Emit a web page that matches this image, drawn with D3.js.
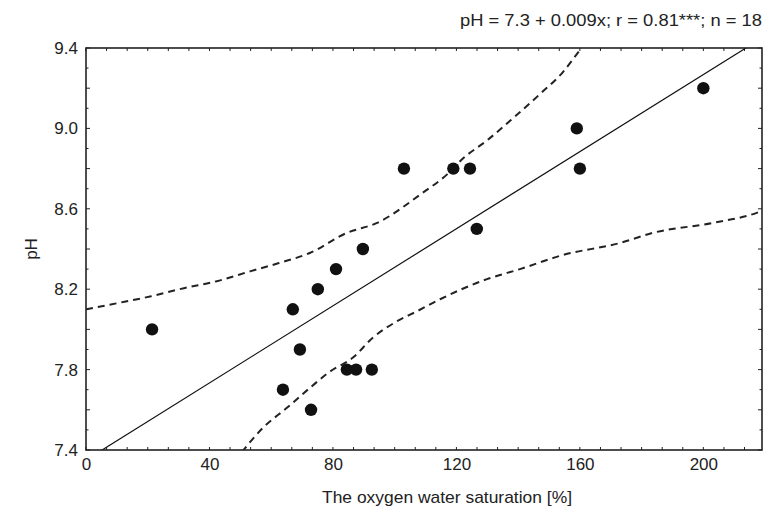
<!DOCTYPE html>
<html>
<head>
<meta charset="utf-8">
<script src="https://cdn.jsdelivr.net/npm/d3@7"></script>
<style>
  body { margin: 0; background: #fff; }
  svg text { font-family: "Liberation Sans", Arial, sans-serif; fill: #222; }
</style>
</head>
<body>
<div id="chart"></div>
<script>
// oxygen saturation (%) and pH
const oxygen = [21.4, 63.8, 67.0, 69.3, 72.9, 75.1, 81.0, 84.5, 87.5, 89.7, 92.6, 103.0, 119.0, 124.4, 126.6, 159.0, 160.0, 200.0];
const ph     = [8.0,  7.7,  8.1,  7.9,  7.6,  8.2,  8.3,  7.8,  7.8,  8.4,  7.8,  8.8,   8.8,   8.8,   8.5,   9.0,   8.8,   9.2];

// fitted line ends
const fitX = [0, 219];
const fitY = [7.35, 9.45];

// confidence band (upper / lower)
const upperX = [0, 10.0, 21.1, 31.7, 42.4, 53.4, 62.5, 72.5, 84.5, 94.3, 109.1, 116.9, 122.1, 129.9, 138.3, 147.0, 154.5, 160.0, 161.0];
const upperY = [8.10, 8.13, 8.165, 8.205, 8.24, 8.29, 8.33, 8.38, 8.48, 8.53, 8.68, 8.77, 8.85, 8.94, 9.05, 9.17, 9.28, 9.39, 9.41];
const lowerX = [50.5, 57.3, 65.1, 72.6, 79.0, 86.5, 93.0, 100.7, 107.2, 114.7, 129.9, 140.6, 154.5, 173.0, 183.6, 203.1, 217.3, 219];
const lowerY = [7.39, 7.51, 7.61, 7.71, 7.79, 7.86, 7.96, 8.04, 8.09, 8.15, 8.25, 8.30, 8.37, 8.43, 8.48, 8.53, 8.58, 8.59];

const xTicks = [0, 40, 80, 120, 160, 200];
const yTicks = [7.4, 7.8, 8.2, 8.6, 9.0, 9.4];

const equation = "pH = 7.3 + 0.009x; r = 0.81***; n = 18";
const xTitle = "The oxygen water saturation [%]";
const yTitle = "pH";

const width = 768, height = 516;
const margin = { top: 48, right: 6, bottom: 66, left: 86 };
const w = width - margin.left - margin.right;
const h = height - margin.top - margin.bottom;

const svg = d3.select("#chart").append("svg")
    .attr("width", width)
    .attr("height", height);

const g = svg.append("g")
    .attr("transform", `translate(${margin.left},${margin.top})`);

const x = d3.scaleLinear().domain([0, 219]).range([0, w]);
const y = d3.scaleLinear().domain([7.4, 9.4]).range([h, 0]);

g.append("clipPath").attr("id", "clip")
    .append("rect").attr("width", w).attr("height", h);

// minor ticks, pointing inward
const xMinor = d3.range(0, 219, 40 / 6);
const yMinor = d3.range(7.4, 9.401, 0.1);

const ticks = g.append("g").attr("stroke", "#222").attr("stroke-width", 1);
xMinor.forEach(v => {
    ticks.append("line").attr("x1", x(v)).attr("x2", x(v)).attr("y1", h).attr("y2", h - 3);
    ticks.append("line").attr("x1", x(v)).attr("x2", x(v)).attr("y1", 0).attr("y2", 3);
});
yMinor.forEach((v, i) => {
    const len = i % 2 === 0 ? 4 : 2.5;
    ticks.append("line").attr("x1", 0).attr("x2", len).attr("y1", y(v)).attr("y2", y(v));
    ticks.append("line").attr("x1", w).attr("x2", w - len).attr("y1", y(v)).attr("y2", y(v));
});

// axes labels only
const xAxis = g.append("g")
    .attr("transform", `translate(0,${h})`)
    .call(d3.axisBottom(x).tickValues(xTicks).tickSize(0).tickPadding(6).tickFormat(d3.format("d")));
const yAxis = g.append("g")
    .call(d3.axisLeft(y).tickValues(yTicks).tickSize(0).tickPadding(8).tickFormat(d3.format(".1f")));
[xAxis, yAxis].forEach(a => {
    a.select(".domain").remove();
    a.selectAll("text").style("font-size", "17px").attr("fill", "#222");
});
xAxis.selectAll("text").attr("dy", "0.85em");

const plot = g.append("g").attr("clip-path", "url(#clip)");

const line = d3.line().x(d => x(d[0])).y(d => y(d[1]));

plot.append("path")
    .datum(d3.zip(fitX, fitY))
    .attr("d", line)
    .attr("fill", "none")
    .attr("stroke", "#111")
    .attr("stroke-width", 1.2);

[[upperX, upperY], [lowerX, lowerY]].forEach(([bx, by]) => {
    plot.append("path")
        .datum(d3.zip(bx, by))
        .attr("d", line.curve(d3.curveMonotoneX))
        .attr("fill", "none")
        .attr("stroke", "#222")
        .attr("stroke-width", 2)
        .attr("stroke-dasharray", "7,5");
});

g.append("g")
    .selectAll("circle")
    .data(d3.zip(oxygen, ph))
    .join("circle")
    .attr("cx", d => x(d[0]))
    .attr("cy", d => y(d[1]))
    .attr("r", 6.2)
    .attr("fill", "#111");

// frame
g.append("rect")
    .attr("width", w).attr("height", h)
    .attr("fill", "none")
    .attr("stroke", "#222")
    .attr("stroke-width", 1.6);

svg.append("text")
    .attr("x", 762).attr("y", 26)
    .attr("text-anchor", "end")
    .attr("textLength", 302)
    .attr("lengthAdjust", "spacingAndGlyphs")
    .style("font-size", "17px")
    .text(equation);

svg.append("text")
    .attr("x", 322).attr("y", 503)
    .attr("textLength", 250)
    .attr("lengthAdjust", "spacingAndGlyphs")
    .style("font-size", "17px")
    .text(xTitle);

svg.append("text")
    .attr("transform", `translate(37,${margin.top + h / 2}) rotate(-90)`)
    .attr("text-anchor", "middle")
    .style("font-size", "17px")
    .text(yTitle);
</script>
</body>
</html>
